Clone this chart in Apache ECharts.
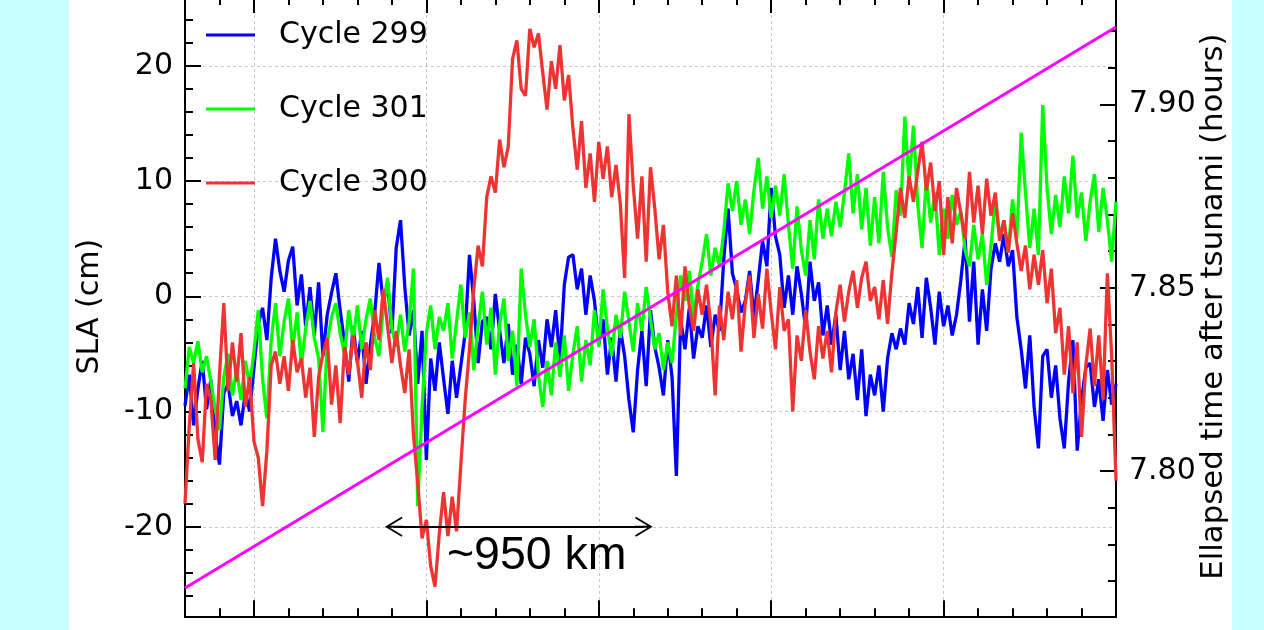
<!DOCTYPE html>
<html><head><meta charset="utf-8">
<script src="https://cdn.jsdelivr.net/npm/echarts@6/dist/echarts.min.js"></script>
<style>
html,body{margin:0;padding:0;width:1264px;height:630px;background:#c8ffff;overflow:hidden;}
#chart{position:absolute;left:69px;top:0;width:1163px;height:630px;background:#fff;}
</style></head><body><div id="chart"></div>
<script>
// ---- data ----
const X_START = -2, X_STEP = 0.125;   // sample spacing along the track
const X_MIN = -2, X_MAX = 25;
const xTicksMajor = [0, 5, 10, 15, 20, 25];
const xTicksMinor = [-1, 1, 2, 3, 4, 6, 7, 8, 9, 11, 12, 13, 14, 16, 17, 18, 19, 21, 22, 23, 24];
const SLA_MIN = -27.77, SLA_MAX = 25.97;
const slaTicksMajor = [-20, -10, 0, 10, 20];
const slaTicksMinor = [-26, -24, -22, -18, -16, -14, -12, -8, -6, -4, -2, 2, 4, 6, 8, 12, 14, 16, 18, 22, 24];
const T_MIN = 7.7604, T_MAX = 7.9293;
const timeTicksMajor = [7.80, 7.85, 7.90];
const timeTicksMinor = [7.77, 7.78, 7.79, 7.81, 7.82, 7.83, 7.84, 7.86, 7.87, 7.88, 7.89, 7.91, 7.92];
const seriesNames = ['Cycle 299', 'Cycle 301', 'Cycle 300'];

const cycle299 = [
 -9.5, -6.8, -11.2, -8.0, -5.6, -9.8, -7.2, -12.0, -14.6, -8.4,
 -7.6, -10.4, -9.1, -11.2, -8.3, -10.0, -6.2, -2.4, -1.0, -3.8,
 1.6, 5.0, 2.2, 0.4, 3.1, 4.3, -0.8, 1.9, -2.6, 0.8,
 -3.4, 1.2, -5.2, -1.6, 0.3, 2.0, -1.2, -4.0, -7.4, -2.6,
 -5.8, -3.0, -7.6, -4.2, -1.5, 2.9, -0.6, 1.2, -3.2, 4.2,
 6.6, 0.8, -3.4, -1.2, -7.6, -3.0, -14.2, -5.4, -8.2, -4.0,
 -7.2, -10.2, -5.6, -8.8, -6.0, -3.2, 3.6, -0.4, -5.8, -2.2,
 -1.8, -4.6, 0.2, -3.0, -5.8, -2.4, -6.8, -4.2, -7.6, -3.6,
 -5.0, -7.8, -3.8, -6.2, -2.0, -4.4, -1.2, -5.6, 1.0, 3.4,
 3.6, 0.6, 2.4, -1.6, 1.8, -0.4, -4.2, -2.0, -6.8, -3.6,
 -7.4, -2.8, -5.2, -9.0, -11.8, -6.4, -3.0, -7.8, -1.2, -4.4,
 -6.2, -8.6, -3.8, -7.0, -15.6, -2.0, -4.6, -1.0, -5.4, -2.6,
 -3.6, -0.8, -4.4, -1.6, -3.0, 3.2, 7.6, 2.0, 0.6, -1.4,
 -0.4, 2.2, -1.8, 1.4, 4.8, 2.6, 9.4, 5.2, 3.6, -1.0,
 1.8, -1.6, 2.6, 0.2, -2.8, 3.0, -0.4, 1.2, -3.4, -0.8,
 -4.2, -1.6, -6.4, -3.0, -7.2, -5.0, -9.0, -4.6, -10.4, -6.8,
 -8.6, -6.0, -10.0, -5.4, -3.2, -4.6, -2.8, -4.2, -0.6, -2.4,
 0.8, -3.6, 1.6, -1.0, -4.2, 0.4, -2.6, -0.8, -3.4, -1.6,
 1.4, 5.0, -2.2, 3.0, -4.2, 0.6, -3.0, 2.4, 4.6, 3.0,
 5.4, 2.6, 4.0, -1.8, -4.6, -8.0, -3.4, -9.6, -13.2, -5.2,
 -4.6, -8.8, -6.0, -10.6, -13.2, -7.4, -3.8, -13.4, -9.0, -6.2,
 -5.8, -9.6, -7.2, -10.8, -6.4, -9.4, -7.6
];
const cycle301 = [
 -8.0, -4.4, -5.8, -3.9, -6.6, -5.2, -7.4, -9.8, -11.6, -7.0,
 -5.0, -8.6, -6.4, -9.0, -5.6, -7.8, -4.8, -1.2, -7.2, -10.6,
 -3.8, -0.6, -5.2, -2.2, -0.2, -4.6, -1.4, -6.0, -2.8, -0.4,
 -3.6, -5.4, -11.8, -4.0, -1.8, -0.6, -3.2, -5.0, -1.2, -3.8,
 -0.8, -4.6, -2.0, -0.2, -3.6, -5.2, -1.0, 1.6, -2.8, -4.4,
 -1.6, -4.8, -2.2, 2.4, -18.2, -9.6, -3.2, -0.8, -4.6, -1.8,
 -3.0, -0.6, -5.4, -2.2, 1.0, -3.6, -1.4, -6.4, -2.6, 0.4,
 -4.2, -1.0, -6.8, -2.4, -0.2, -5.6, -3.0, -7.8, 2.4, -1.6,
 -4.4, -2.0, -6.8, -9.6, -5.6, -8.6, -4.0, -7.0, -3.4, -8.2,
 -5.0, -2.6, -7.4, -3.8, -6.0, -1.2, -4.4, 0.6, -2.8, -5.2,
 -1.6, -3.6, 0.4, -2.2, -4.8, -0.6, -3.0, 0.8, -2.0, -4.6,
 -3.2, -6.4, -4.0, -5.8, -1.6, 1.8, -0.4, 2.2, -1.8, 1.0,
 3.0, 5.4, 1.8, 4.2, 2.6, 5.6, 9.8, 7.4, 10.0, 6.2,
 8.4, 5.4, 9.2, 12.0, 7.6, 10.4, 6.8, 9.6, 7.0, 10.6,
 6.2, 2.4, 7.8, 4.0, 1.8, 6.6, 3.2, 8.4, 5.0, 7.6,
 5.2, 8.2, 6.0, 9.0, 12.4, 7.2, 10.6, 5.8, 9.4, 4.4,
 8.6, 4.6, 10.8, 6.0, 3.4, 9.2, 7.0, 15.6, 9.8, 14.8,
 8.0, 4.2, 10.2, 6.4, 9.0, 3.6, 7.6, 5.0, 8.8, 6.2,
 7.4, 4.0, 2.6, 6.2, 3.2, 5.4, 1.0, 4.4, 8.4, 5.2,
 6.6, 3.8, 8.4, 5.0, 14.2, 9.0, 4.2, 7.6, 3.6, 16.6,
 9.4, 5.4, 8.8, 6.0, 10.4, 7.2, 12.2, 6.8, 9.0, 4.8,
 8.2, 10.6, 5.6, 9.4, 6.6, 3.0, 8.2
];
const cycle300 = [
 -18.0, -11.2, -5.8, -12.4, -14.4, -7.6, -9.0, -14.2, -6.8, -0.6,
 -8.2, -4.0, -7.4, -3.2, -9.6, -7.0, -12.6, -14.0, -18.2, -13.4,
 -6.0, -4.8, -7.6, -5.2, -8.2, -3.8, -6.6, -5.4, -8.8, -6.2,
 -12.2, -7.0, -5.0, -3.6, -9.4, -6.0, -11.0, -4.4, -6.8, -3.4,
 -5.6, -8.8, -4.0, -6.4, -1.2, -3.8, 0.6, -2.6, -5.8, -3.0,
 -6.0, -8.4, -4.6, -12.0, -16.2, -21.0, -19.4, -23.4, -25.2, -20.6,
 -17.0, -20.8, -17.4, -20.4, -14.6, -9.0, -4.6, 0.6, 4.4, 2.6,
 8.6, 10.4, 9.0, 13.6, 11.2, 13.0, 20.6, 22.2, 18.0, 17.4,
 23.2, 21.6, 22.8, 19.4, 16.2, 20.4, 18.0, 21.8, 17.0, 19.2,
 14.6, 11.0, 15.2, 9.4, 12.4, 8.2, 13.4, 10.2, 13.0, 8.6,
 11.4, 8.0, 1.6, 15.8, 9.6, 5.0, 10.4, 3.0, 11.2, 7.6,
 3.2, 6.2, 0.4, -2.6, 1.8, -3.4, 2.6, -0.8, -3.0, 0.6,
 -1.6, 1.0, -2.4, -8.6, -0.8, -3.8, 0.4, -2.0, 1.4, -4.8,
 -0.6, 1.8, -3.6, 0.2, -2.8, 2.4, -1.4, -4.6, 0.8, -3.0,
 -2.0, -10.0, -3.4, -5.6, -1.2, -4.8, -7.2, -2.6, -5.4, -3.0,
 -6.6, -1.4, 1.0, -2.2, 0.4, 2.2, -1.0, 1.6, 3.0, -0.4,
 0.8, -2.0, 1.4, -2.4, 2.0, 5.6, 9.4, 6.8, 10.4, 8.2,
 10.8, 13.4, 9.2, 11.6, 7.4, 10.0, 3.6, 8.6, 4.6, 9.4,
 7.2, 5.0, 10.8, 6.4, 9.6, 5.4, 10.2, 7.0, 9.0, 4.8,
 6.6, 3.8, 7.2, 4.6, 2.2, 4.4, 0.6, 3.6, 1.0, 4.0,
 -0.6, 2.4, -3.2, -1.0, -6.8, -2.6, -8.4, -4.0, -12.2, -6.0,
 -2.8, -7.8, -3.4, -9.0, 2.0, -5.2, -16.0
];
// elapsed time after tsunami (hours) at the two ends of the track
const elapsedX = [-2, 25];
const elapsedHours = [7.7681, 7.9211];
// annotation
const arrowFrom = [4.06, -20], arrowTo = [11.30, -20];
const annotText = '~950 km';
const annotAt = [8.2, -22.55];

// ---- chart ----
const FONT = 'DejaVu Sans';
const GRID_COLOR = '#c8c8c8';
function toXY(arr) { return arr.map((v, i) => [X_START + i * X_STEP, v]); }

function xAx(pos, ticks, len, split) {
  return {
    type: 'value', position: pos, min: X_MIN, max: X_MAX,
    axisLine: { show: true, onZero: false, lineStyle: { color: '#000', width: 2 } },
    axisTick: { show: true, inside: true, length: len, customValues: ticks, lineStyle: { color: '#000', width: 2 } },
    axisLabel: { show: false },
    splitLine: { show: split, lineStyle: { color: GRID_COLOR, type: [3, 3], width: 1 } },
    minorTick: { show: false }, minorSplitLine: { show: false }
  };
}
function yAx(pos, min, max, ticks, len, extra) {
  return Object.assign({
    type: 'value', position: pos, min: min, max: max,
    axisLine: { show: true, onZero: false, lineStyle: { color: '#000', width: 2 } },
    axisTick: { show: true, inside: true, length: len, customValues: ticks, lineStyle: { color: '#000', width: 2 } },
    axisLabel: { show: false },
    splitLine: { show: false },
    minorTick: { show: false }, minorSplitLine: { show: false }
  }, extra || {});
}

const chev = 'path://M10,0 L20,16.6 L18.4,17.6 L10.9,5.1 L10.9,18 L9.1,18 L9.1,5.1 L1.6,17.6 L0,16.6 Z';
const LW = 3.3;

const chart = echarts.init(document.getElementById('chart'), null, { renderer: 'canvas' });
chart.setOption({
  animation: false,
  backgroundColor: '#ffffff',
  grid: { left: 116, right: 116, top: -3, bottom: 13.7, containLabel: false, outerBoundsMode: 'none' },
  legend: {
    data: seriesNames, orient: 'vertical', left: 132, top: 15,
    icon: 'rect', itemWidth: 49, itemHeight: 3, itemGap: 44, selectedMode: false,
    textStyle: { fontSize: 30, fontFamily: FONT, color: '#000', padding: [0, 0, 0, 19] }
  },
  xAxis: [
    xAx('bottom', xTicksMajor, 16, true),
    xAx('bottom', xTicksMinor, 8, false),
    xAx('top', xTicksMajor, 16, false),
    xAx('top', xTicksMinor, 8, false)
  ],
  yAxis: [
    yAx('left', SLA_MIN, SLA_MAX, slaTicksMajor, 16, {
      axisLabel: { show: true, customValues: slaTicksMajor, margin: 12, fontSize: 30, fontFamily: FONT, color: '#000' },
      splitLine: { show: true, lineStyle: { color: GRID_COLOR, type: [3, 3], width: 1 } },
      name: 'SLA (cm)', nameLocation: 'middle', nameGap: 80, nameRotate: 90, nameMoveOverlap: false,
      nameTextStyle: { fontSize: 30, fontFamily: FONT, color: '#000' }
    }),
    yAx('left', SLA_MIN, SLA_MAX, slaTicksMinor, 8),
    yAx('right', T_MIN, T_MAX, timeTicksMajor, 16, {
      axisLabel: { show: true, customValues: timeTicksMajor, margin: 13, fontSize: 30, fontFamily: FONT, color: '#000',
        formatter: v => Number(v).toFixed(2) },
      name: 'Ellapsed time after tsunami (hours)', nameLocation: 'middle', nameGap: 82, nameRotate: 90, nameMoveOverlap: false,
      nameTextStyle: { fontSize: 30.8, fontFamily: FONT, color: '#000' }
    }),
    yAx('right', T_MIN, T_MAX, timeTicksMinor, 8)
  ],
  series: [
    { name: seriesNames[0], type: 'line', data: toXY(cycle299), showSymbol: false, symbol: 'none',
      lineStyle: { color: '#0000ff', width: LW }, itemStyle: { color: '#0000ff' } },
    { name: seriesNames[1], type: 'line', data: toXY(cycle301), showSymbol: false, symbol: 'none',
      lineStyle: { color: '#00ff00', width: LW }, itemStyle: { color: '#00ff00' } },
    { name: seriesNames[2], type: 'line', data: toXY(cycle300), showSymbol: false, symbol: 'none',
      lineStyle: { color: '#ee3333', width: LW }, itemStyle: { color: '#ee3333' },
      markLine: {
        silent: true, symbol: [chev, chev], symbolSize: [20, 18],
        lineStyle: { color: '#000', width: 2, type: 'solid' }, label: { show: false },
        emphasis: { disabled: true },
        data: [[{ coord: arrowFrom }, { coord: arrowTo }]]
      },
      markPoint: {
        silent: true, symbol: 'circle', symbolSize: 0, itemStyle: { color: 'rgba(0,0,0,0)' },
        label: { show: true, position: 'inside', formatter: annotText, fontSize: 46.5, fontFamily: 'Liberation Sans', color: '#000' },
        data: [{ coord: annotAt }]
      }
    },
    { name: 'elapsed', type: 'line', yAxisIndex: 2, showSymbol: false, symbol: 'none',
      data: elapsedX.map((x, i) => [x, elapsedHours[i]]),
      lineStyle: { color: '#ff00ff', width: 3 }, itemStyle: { color: '#ff00ff' }, z: 3 }
  ]
});
</script></body></html>
